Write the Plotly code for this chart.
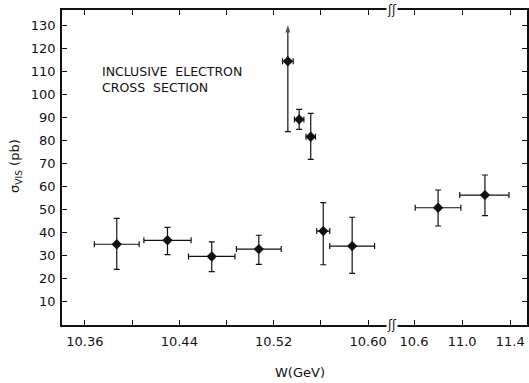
import plotly.graph_objects as go

# Low-energy region (left panel)
w_low = [10.387, 10.430, 10.4675, 10.5074, 10.5416, 10.5514, 10.562, 10.5865]
w_low_err = [0.019, 0.020, 0.0197, 0.019, 0.004, 0.004, 0.0055, 0.019]
sig_low = [35.0, 36.7, 29.7, 32.9, 89.1, 81.6, 40.7, 34.2]
sig_low_up = [11.2, 5.6, 6.3, 6.0, 4.3, 10.1, 12.3, 12.5]
sig_low_dn = [10.9, 6.2, 6.6, 6.6, 4.3, 9.8, 14.6, 11.8]

# Point with lower limit arrow (Upsilon(4S) peak)
w_peak = [10.532]
w_peak_err = [0.0045]
sig_peak = [114.3]
sig_peak_dn = [30.5]
sig_peak_arrow_top = [130.0]

# High-energy region (right panel)
w_high = [10.80, 11.19]
w_high_err_minus = [0.19, 0.21]
w_high_err_plus = [0.19, 0.20]
sig_high = [50.8, 56.3]
sig_high_up = [7.7, 8.7]
sig_high_dn = [7.9, 8.9]

y_ticks = list(range(10, 140, 10))
x_low_labels_at = [10.36, 10.44, 10.52, 10.60]
x_low_labels = ["10.36", "10.44", "10.52", "10.60"]
x_low_minor = [10.40, 10.48, 10.56]
x_high_ticks = [10.6, 11.0, 11.4]
x_high_labels = ["10.6", "11.0", "11.4"]

FONT = "DejaVu Sans"
INK = "#111111"

fig = go.Figure()

mk = dict(symbol="diamond", size=8, color=INK)
ebar = dict(color=INK, thickness=1.2, width=3)

fig.add_trace(go.Scatter(
    x=w_low, y=sig_low, mode="markers", marker=mk,
    error_x=dict(type="data", array=w_low_err, **ebar),
    error_y=dict(type="data", array=sig_low_up, arrayminus=sig_low_dn, **ebar),
    xaxis="x", yaxis="y", showlegend=False))

# upward arrow from the peak point (lower limit)
fig.add_trace(go.Scatter(
    x=[w_peak[0], w_peak[0]], y=[sig_peak[0], sig_peak_arrow_top[0]],
    mode="lines+markers", line=dict(color=INK, width=1.2),
    marker=dict(symbol=["circle", "arrow"], size=[0, 8], angleref="previous",
                color=INK, line=dict(width=0)),
    xaxis="x", yaxis="y", showlegend=False, hoverinfo="skip"))

fig.add_trace(go.Scatter(
    x=w_peak, y=sig_peak, mode="markers", marker=mk,
    error_x=dict(type="data", array=w_peak_err, **ebar),
    error_y=dict(type="data", array=[0], arrayminus=sig_peak_dn, **ebar),
    xaxis="x", yaxis="y", showlegend=False))

fig.add_trace(go.Scatter(
    x=w_high, y=sig_high, mode="markers", marker=mk,
    error_x=dict(type="data", array=w_high_err_plus, arrayminus=w_high_err_minus, **ebar),
    error_y=dict(type="data", array=sig_high_up, arrayminus=sig_high_dn, **ebar),
    xaxis="x2", yaxis="y2", showlegend=False))

split = 0.709
axis_common = dict(showline=True, linecolor=INK, linewidth=1.5, ticks="inside",
                   ticklen=5, tickwidth=1.2, tickcolor=INK, showgrid=False,
                   zeroline=False, tickfont=dict(family=FONT, size=13, color=INK))

fig.update_layout(
    width=529, height=383,
    margin=dict(l=62, r=2, t=10, b=58),
    paper_bgcolor="white", plot_bgcolor="white",
    xaxis=dict(domain=[0, split], range=[10.3406, 10.62], tickvals=x_low_labels_at,
               ticktext=x_low_labels, mirror="ticks", anchor="y",
               minor=dict(tickvals=x_low_minor, ticks="inside", ticklen=5,
                          tickwidth=1.2, tickcolor=INK, showgrid=False),
               ticklabelstandoff=4, **axis_common),
    xaxis2=dict(domain=[split, 1], range=[10.414, 11.54], tickvals=x_high_ticks,
                ticktext=x_high_labels, mirror="ticks", anchor="y2",
                ticklabelstandoff=4, **axis_common),
    yaxis=dict(range=[0, 136.5], tickvals=y_ticks, anchor="x", mirror=False,
               ticklabelstandoff=2, **axis_common),
    yaxis2=dict(range=[0, 136.5], tickvals=y_ticks, anchor="x2", side="right",
                matches="y", showticklabels=False, **axis_common),
)

fig.add_annotation(text="INCLUSIVE  ELECTRON<br>CROSS  SECTION", xref="paper", yref="paper",
                   x=(100 - 62) / 465, y=(325 - 62) / 315, xanchor="left", yanchor="top",
                   align="left", showarrow=False,
                   font=dict(family=FONT, size=12.5, color=INK))

fig.add_annotation(text="W(GeV)", xref="paper", yref="paper",
                   x=(300 - 62) / 465, y=-(373 - 325) / 315, xanchor="center", yanchor="middle",
                   showarrow=False, font=dict(family=FONT, size=13, color=INK))

fig.add_annotation(text="σ<sub>VIS</sub> (pb)", xref="paper", yref="paper",
                   x=-(62 - 15) / 465, y=(325 - 166) / 315, xanchor="center", yanchor="middle",
                   textangle=-90, showarrow=False, font=dict(family=FONT, size=13, color=INK))

for yy in (0, 1):
    fig.add_annotation(text="ʃʃ", xref="paper", yref="paper", x=split, y=yy,
                       xanchor="center", yanchor="middle", showarrow=False,
                       bgcolor="white", borderpad=0,
                       font=dict(family=FONT, size=12, color=INK))

fig.write_html("out.html")
